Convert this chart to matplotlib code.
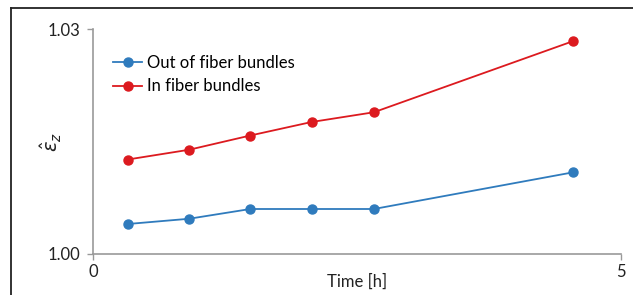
import numpy as np
import matplotlib
matplotlib.use("Agg")
import matplotlib.pyplot as plt
from matplotlib.lines import Line2D

# data
time_h = [0.33, 0.91, 1.49, 2.07, 2.66, 4.55]
eps_out = [1.0040, 1.0047, 1.0060, 1.0060, 1.0060, 1.0109]
eps_in = [1.0126, 1.0139, 1.0158, 1.0176, 1.0189, 1.0284]

plt.rcParams['font.family'] = ['Lato', 'DejaVu Sans']
plt.rcParams['mathtext.fontset'] = 'dejavusans'

fig = plt.figure(figsize=(6.33, 2.95), dpi=100)
ax = fig.add_axes([93/633, 1-254/295, (621-93)/633, (254-29)/295])

ax.plot(time_h, eps_out, '-o', color='#2f7bbd', lw=1.3, ms=6.5, label='Out of fiber bundles')
ax.plot(time_h, eps_in, '-o', color='#dc1a1f', lw=1.3, ms=6.5, label='In fiber bundles')

ax.set_xlim(0, 5)
ax.set_ylim(1.0, 1.03)
ax.set_xticks([0, 5])
ax.set_xticklabels(['0', '5'])
ax.set_yticks([1.0, 1.03])
ax.set_yticklabels(['1.00', '1.03'])
for s in ['top', 'right']:
    ax.spines[s].set_visible(False)
for s in ['left', 'bottom']:
    ax.spines[s].set_color('#999999')
    ax.spines[s].set_linewidth(1.2)
ax.tick_params(colors='#999999', labelcolor='#222222', labelsize=12, length=4, width=1)
ax.tick_params(axis='y', pad=5)

ax.set_xlabel('Time [h]', fontsize=12, color='#222222')
ax.xaxis.set_label_coords(0.5, -0.085)
ax.set_ylabel(r'$\hat{\varepsilon}_z$', fontsize=14, color='#222222')
ax.yaxis.set_label_coords(-0.055, 0.5)

leg = ax.legend(loc='upper left', bbox_to_anchor=(0.038, 0.885), frameon=False,
                fontsize=12, handlelength=1.75, handletextpad=0.3, labelspacing=0.45,
                borderaxespad=0, borderpad=0)

# figure frame, cut at right and bottom
fig.add_artist(Line2D([11/633, 11/633], [0, 1-8/295], color='#222222', lw=1.3))
fig.add_artist(Line2D([11/633, 1], [1-8/295, 1-8/295], color='#222222', lw=1.3))

fig.savefig('out.png', dpi=100)
